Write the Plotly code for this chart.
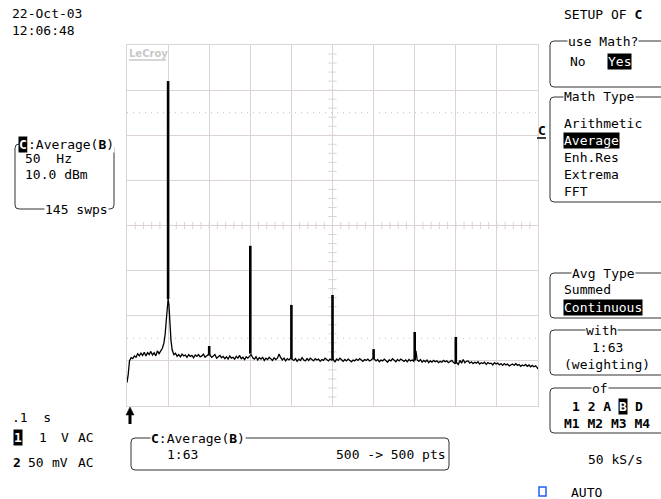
import plotly.graph_objects as go

freq_hz = [0, 1.5, 3, 5, 7, 9, 11, 13, 15, 17, 19, 21, 23, 25, 27, 29, 31, 33, 35, 37, 39, 41, 43, 45,
           46.5, 48, 49, 50, 51, 52, 53.5, 55, 57, 59, 61, 63, 65, 67, 69, 71, 73, 75, 77, 79, 81, 83,
           85, 87, 89, 91, 93, 95, 97, 99, 101, 103, 105, 107, 109, 111, 113, 115, 117, 119, 121, 123,
           125, 127, 129, 131, 133, 135, 137, 139, 141, 143, 145, 147, 149, 151, 153, 155, 157, 159,
           161, 163, 165, 167, 169, 171, 173, 175, 177, 179, 181, 183, 185, 187, 189, 191, 193, 195,
           197, 199, 201, 203, 205, 207, 209, 211, 213, 215, 217, 219, 221, 223, 225, 227, 229, 231,
           233, 235, 237, 239, 241, 243, 245, 247, 249, 251, 253, 255, 257, 259, 261, 263, 265, 267,
           269, 271, 273, 275, 277, 279, 281, 283, 285, 287, 289, 291, 293, 295, 297, 299, 301, 303,
           305, 307, 309, 311, 313, 315, 317, 319, 321, 323, 325, 327, 329, 331, 333, 335, 337, 339,
           341, 343, 345, 347, 349, 351.5, 353, 355, 357, 359, 361, 363, 365, 367, 369, 371, 373, 375,
           377, 379, 381, 383, 385, 387, 389, 391, 393, 395, 397, 399, 401, 403, 405, 407, 409, 411,
           413, 415, 417, 419, 421, 423, 425, 427, 429, 431, 433, 435, 437, 439, 441, 443, 445, 447,
           449, 451, 453, 455, 457, 459, 461, 463, 465, 467, 469, 471, 473, 475, 477, 479, 481, 483,
           485, 487, 489, 491, 493, 495, 497, 499, 500]
level_dbm = [-74.8, -73.0, -70.0, -69.3, -69.5, -68.9, -69.2, -68.4, -68.9, -68.3, -68.8, -68.1, -68.9,
             -68.2, -68.6, -67.9, -68.7, -68.2, -68.9, -67.8, -68.4, -67.9, -67.2, -66.0,
             -64.0, -60.5, -57.0, -56.3, -57.5, -61.5, -65.5, -67.6, -68.6, -68.3, -69.0, -68.6, -69.1,
             -68.5, -68.9, -68.7, -69.2, -68.6, -69.0, -68.8, -69.3, -68.7,
             -69.0, -68.6, -69.1, -68.9, -68.5, -69.2, -68.8, -68.6, -68.7, -69.2, -68.9, -68.6, -69.4,
             -69.0, -68.8, -69.3, -69.0, -69.5, -69.1, -69.6,
             -68.9, -69.4, -69.2, -69.6, -69.0, -69.4, -68.8, -69.5, -69.2, -69.7, -69.1, -69.4, -69.0,
             -68.6, -69.3, -69.6, -69.1, -69.8,
             -69.3, -69.6, -69.2, -69.9, -69.4, -69.7, -69.2, -69.5, -69.9, -69.3, -69.7, -69.4, -68.5,
             -69.3, -69.8, -69.4, -70.0, -69.5,
             -69.8, -69.4, -69.6, -69.9, -69.5, -70.1, -69.6, -69.9, -69.3, -69.8, -70.0, -69.5, -69.9,
             -69.4, -69.7, -70.0, -69.5, -69.8,
             -69.6, -70.1, -69.7, -69.9, -69.4, -69.8, -70.0, -69.6, -69.8, -69.7, -70.2, -69.6, -69.9,
             -69.4, -69.8, -70.1, -69.7, -70.0,
             -69.6, -69.9, -70.2, -69.8, -70.0, -69.6, -69.9, -69.5, -69.8, -70.1, -69.7, -69.9, -69.6,
             -70.0, -69.8, -69.5, -69.6, -70.0,
             -69.7, -70.2, -69.8, -70.0, -69.6, -69.9, -70.3, -69.8, -70.0, -69.5, -69.9, -70.2, -69.7,
             -70.0, -69.6, -69.9, -70.1, -69.8,
             -70.2, -69.7, -70.0, -69.8, -70.1, -67.8, -69.8, -70.1, -69.7, -70.3, -69.9, -70.2, -69.8,
             -70.4, -70.0, -70.3, -69.9, -70.2,
             -70.0, -70.4, -70.1, -70.3, -69.9, -70.2, -70.0, -70.4, -70.1, -69.9, -70.3, -70.6, -70.4,
             -70.8, -69.9, -70.5, -69.7, -70.4,
             -70.1, -70.0, -70.5, -70.2, -70.6, -70.3, -70.5, -70.2, -70.7, -70.4, -70.6, -70.3, -70.8,
             -70.4, -70.6, -70.5, -70.9, -70.4,
             -70.7, -70.5, -70.9, -70.6, -71.0, -70.6, -70.9, -70.7, -71.1, -70.8, -70.7, -71.0, -70.6,
             -71.0, -70.8, -71.2, -70.9, -71.1,
             -70.8, -71.2, -70.9, -71.3, -71.0, -71.3, -71.1, -71.5, -71.8]

# harmonic spikes: frequency, foot level and peak level
spike_hz = [50, 100, 150, 200, 250, 300, 350, 400]
spike_foot_dbm = [-56.3, -68.7, -68.4, -69.6, -69.8, -69.6, -69.9, -70.5]
spike_peak_dbm = [-8.0, -66.7, -44.5, -57.6, -55.4, -67.4, -63.6, -64.7]

H_SPAN = [0, 500]        # 50 Hz / div, 10 div
V_SPAN = [-80, 0]        # 10 dBm / div, 8 div
REF_DOTS = [-15, -65]

# ---------------- geometry helpers ----------------
L, T, W, H = 127, 45, 411, 361
GRID = "#dcd3d3"
FONT = "DejaVu Sans Mono"


def px(x):
    return (x - L) / W


def py(y):
    return (T + H - y) / H


fig = go.Figure()

fig.add_trace(go.Scatter(x=freq_hz, y=level_dbm, mode="lines",
                         line=dict(color="black", width=1.3), hoverinfo="skip"))

sx, sy = [], []
for f, a, b in zip(spike_hz, spike_foot_dbm, spike_peak_dbm):
    sx += [f, f, None]
    sy += [a, b, None]
fig.add_trace(go.Scatter(x=sx, y=sy, mode="lines",
                         line=dict(color="black", width=2.6), hoverinfo="skip"))

shapes = []
# dotted reference levels
for lv in REF_DOTS:
    shapes.append(dict(type="line", xref="x", yref="y", x0=H_SPAN[0], x1=H_SPAN[1], y0=lv, y1=lv,
                       line=dict(color="#c0c0c0", width=1, dash="1px,5px"), layer="below"))
# centre-axis tick marks
xc = sum(H_SPAN) / 2
yc = sum(V_SPAN) / 2
for v in range(V_SPAN[0] + 2, V_SPAN[1], 2):
    shapes.append(dict(type="line", xref="x", yref="y", x0=xc - 5, x1=xc + 5, y0=v, y1=v,
                       line=dict(color=GRID, width=1), layer="below"))
for f in range(H_SPAN[0] + 10, H_SPAN[1], 10):
    shapes.append(dict(type="line", xref="x", yref="y", x0=f, x1=f, y0=yc - 0.8, y1=yc + 0.8,
                       line=dict(color=GRID, width=1), layer="below"))


def rrect(x0, y0, x1, y1, r=4, color="#333", width=1):
    p = (f"M {px(x0 + r)} {py(y0)} L {px(x1 - r)} {py(y0)} Q {px(x1)} {py(y0)} {px(x1)} {py(y0 + r)} "
         f"L {px(x1)} {py(y1 - r)} Q {px(x1)} {py(y1)} {px(x1 - r)} {py(y1)} "
         f"L {px(x0 + r)} {py(y1)} Q {px(x0)} {py(y1)} {px(x0)} {py(y1 - r)} "
         f"L {px(x0)} {py(y0 + r)} Q {px(x0)} {py(y0)} {px(x0 + r)} {py(y0)} Z")
    return dict(type="path", xref="paper", yref="paper", path=p,
                line=dict(color=color, width=width), fillcolor="rgba(0,0,0,0)")


# panels
shapes.append(rrect(15, 144, 114, 209))
shapes.append(rrect(131, 438, 449, 470))
shapes.append(rrect(550, 41, 668, 87))
shapes.append(rrect(550, 97, 668, 202))
shapes.append(rrect(550, 273, 668, 318))
shapes.append(rrect(550, 330, 668, 375))
shapes.append(rrect(550, 388, 668, 433))
# LeCroy underline
shapes.append(dict(type="line", xref="paper", yref="paper", x0=px(129), x1=px(166), y0=py(60), y1=py(60),
                   line=dict(color="#c8c8c8", width=1.5)))
# channel C marker underline
shapes.append(dict(type="line", xref="paper", yref="paper", x0=px(537), x1=px(546), y0=py(138), y1=py(138),
                   line=dict(color="black", width=1.5)))
# blue square
shapes.append(dict(type="rect", xref="paper", yref="paper", x0=px(539), x1=px(546), y0=py(496), y1=py(487),
                   line=dict(color="#1f5fff", width=1.5)))
# trigger arrow (shaft + head)
shapes.append(dict(type="line", xref="paper", yref="paper", x0=px(130), x1=px(130), y0=py(413), y1=py(424),
                   line=dict(color="black", width=3)))
shapes.append(dict(type="path", xref="paper", yref="paper",
                   path=f"M {px(130)} {py(407)} L {px(126)} {py(415)} L {px(134)} {py(415)} Z",
                   fillcolor="black", line=dict(color="black", width=0.5)))

ann = []


def text(x, y, s, anchor="left", size=13, color="black", bg=None, bold=False, family=FONT):
    d = dict(xref="paper", yref="paper", x=px(x), y=py(y), text=(f"<b>{s}</b>" if bold else s),
             showarrow=False, xanchor=anchor, yanchor="middle",
             font=dict(family=family, size=size, color=color), borderpad=0)
    if bg:
        d["bgcolor"] = bg
    ann.append(d)


def inv(x, y, s, anchor="left", size=13, bold=False):
    text(x, y, s, anchor=anchor, size=size, color="white", bg="black", bold=bold)


# header
text(11, 14, "22-Oct-03")
text(11, 31, "12:06:48")
# left trace box
inv(18, 144, "C", bold=True)
text(27, 144, ":Average(<b>B</b>)", bg="white")
text(24, 158, "50  Hz")
text(24, 174, "10.0 dBm")
text(44, 209, "145 swps", bg="white")
# bottom-left
text(11, 417, ".1  s")
inv(13, 437, "1", bold=True)
text(38, 437, "1")
text(60, 437, "V")
text(77, 437, "AC")
text(12, 462, "2", bold=True)
text(27, 462, "50")
text(51, 462, "mV")
text(77, 462, "AC")
# bottom box
text(150, 438, "<b>C</b>:Average(<b>B</b>)", bg="white")
text(166, 454, "1:63")
text(447, 454, "500 -> 500 pts", anchor="right")
# LeCroy logo
text(128, 53, "LeCroy", size=10, color="#c8c8c8", bold=True, family="DejaVu Sans")
# right menu
text(563, 15, "SETUP OF <b>C</b>")
text(603, 41, "use Math?", anchor="center", bg="white")
text(569, 61, "No")
inv(607, 61, "Yes")
text(563, 97, "Math Type", bg="white")
text(563, 123, "Arithmetic")
inv(563, 140, "Average")
text(563, 157, "Enh.Res")
text(563, 174, "Extrema")
text(563, 191, "FFT")
text(537, 130, "C", bold=True)
text(571, 273, "Avg Type", bg="white")
text(563, 289, "Summed")
inv(563, 307, "Continuous")
text(601, 330, "with", anchor="center", bg="white")
text(607, 347, "1:63", anchor="center")
text(607, 364, "(weighting)", anchor="center")
text(600, 388, "of", anchor="center", bg="white")
text(571, 406, "1 2 A", bold=True)
inv(618, 406, "B", bold=True)
text(634, 406, "D", bold=True)
text(607, 423, "M1 M2 M3 M4", anchor="center", bold=True)
text(587, 460, "50 kS/s")
text(570, 492, "AUTO")

fig.update_layout(
    width=661, height=499,
    margin=dict(l=L, r=661 - L - W, t=T, b=499 - T - H),
    paper_bgcolor="white", plot_bgcolor="white",
    showlegend=False,
    xaxis=dict(range=H_SPAN, dtick=50, showgrid=True, gridcolor=GRID, gridwidth=1,
               showticklabels=False, ticks="", zeroline=False,
               showline=True, mirror=True, linecolor=GRID, linewidth=1, fixedrange=True),
    yaxis=dict(range=V_SPAN, dtick=10, showgrid=True, gridcolor=GRID, gridwidth=1,
               showticklabels=False, ticks="", zeroline=False,
               showline=True, mirror=True, linecolor=GRID, linewidth=1, fixedrange=True),
    shapes=shapes, annotations=ann,
)

fig.write_html("out.html")
